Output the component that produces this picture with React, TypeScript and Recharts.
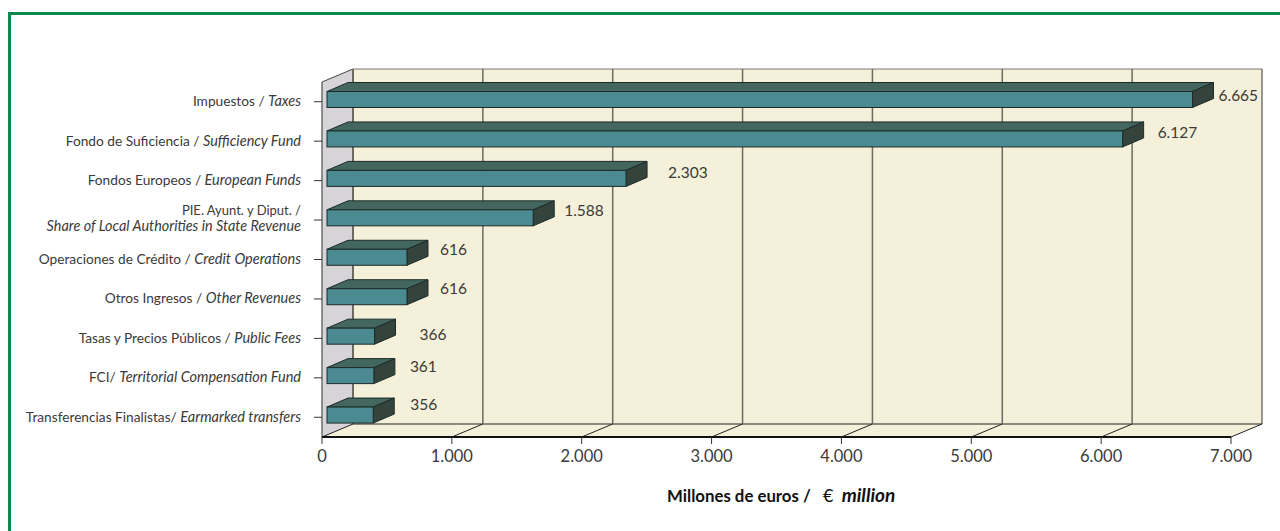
import { Bar, BarChart, LabelList, ReferenceArea, XAxis, YAxis } from "recharts";

const CATEGORIES = [
  "Impuestos",
  "Fondo de Suficiencia",
  "Fondos Europeos",
  "PIE. Ayunt. y Diput.",
  "Operaciones de Crédito",
  "Otros Ingresos",
  "Tasas y Precios Públicos",
  "FCI",
  "Transferencias Finalistas",
];
const CATEGORIES_EN = [
  "Taxes",
  "Sufficiency Fund",
  "European Funds",
  "Share of Local Authorities in State Revenue",
  "Credit Operations",
  "Other Revenues",
  "Public Fees",
  "Territorial Compensation Fund",
  "Earmarked transfers",
];
const VALUES = [6665, 6127, 2303, 1588, 616, 616, 366, 361, 356];
const X_TICKS = [0, 1000, 2000, 3000, 4000, 5000, 6000, 7000];

const chartData = CATEGORIES.map((name, i) => ({ name, value: VALUES[i] }));

const FONT = "Lato, sans-serif";
const TEXT = "#3a3a3a";
const WALL_DX = 31;
const WALL_DY = 13;
const BAR_DX = 21;
const BAR_DY = 9;
// the value labels sit a bit unevenly in the original
const LABEL_NUDGE = [
  [26, -4],
  [35, -6],
  [42, -6],
  [31, -7],
  [33, -8],
  [33, -8],
  [45, -2],
  [36, -9],
  [37, -10],
];

const fmt = (v: number) => String(v).replace(/\B(?=(\d{3})+$)/g, ".");

const Walls = ({ x, y, width, height }: any) => {
  const bottom = y + height;
  const right = x + width;
  const step = width / 7;
  return (
    <g>
      <polygon
        points={`${x + WALL_DX},${y - WALL_DY} ${right + WALL_DX},${y - WALL_DY} ${right + WALL_DX},${bottom - WALL_DY} ${x + WALL_DX},${bottom - WALL_DY}`}
        fill="#f5f0d9"
      />
      <polygon
        points={`${x},${bottom} ${x + WALL_DX},${bottom - WALL_DY} ${right + WALL_DX},${bottom - WALL_DY} ${right},${bottom}`}
        fill="#f5f0d9"
      />
      <polygon
        points={`${x},${y} ${x + WALL_DX},${y - WALL_DY} ${x + WALL_DX},${bottom - WALL_DY} ${x},${bottom}`}
        fill="#d6d4d6"
      />
      <line x1={x} y1={y} x2={x} y2={bottom} stroke="#6e6e6e" strokeWidth={1.5} />
      <line x1={x} y1={y} x2={x + WALL_DX} y2={y - WALL_DY} stroke="#444" strokeWidth={1} />
      <line x1={x + WALL_DX} y1={y - WALL_DY} x2={right + WALL_DX} y2={y - WALL_DY} stroke="#777" strokeWidth={1} />
      <line x1={right + WALL_DX} y1={y - WALL_DY} x2={right + WALL_DX} y2={bottom - WALL_DY} stroke="#333" strokeWidth={1} />
      <line x1={x + WALL_DX} y1={bottom - WALL_DY} x2={right + WALL_DX} y2={bottom - WALL_DY} stroke="#222" strokeWidth={1} />
      {X_TICKS.slice(0, 7).map((_, i) => (
        <line
          key={i}
          x1={x + WALL_DX + step * i}
          y1={y - WALL_DY}
          x2={x + WALL_DX + step * i}
          y2={bottom - WALL_DY}
          stroke="#6b6b60"
          strokeWidth={i === 0 ? 2 : 1.5}
        />
      ))}
      {X_TICKS.map((_, i) => (
        <line
          key={i}
          x1={x + step * i}
          y1={bottom}
          x2={x + step * i + WALL_DX}
          y2={bottom - WALL_DY}
          stroke="#222"
          strokeWidth={1}
        />
      ))}
    </g>
  );
};

const Bar3D = ({ x, y, width, height }: any) => {
  const left = x + 5;
  const top = y - 2.5;
  const right = x + width + 5;
  const low = top + height;
  return (
    <g stroke="#1d2b28" strokeWidth={1}>
      <polygon
        points={`${left},${top} ${left + BAR_DX},${top - BAR_DY} ${right + BAR_DX},${top - BAR_DY} ${right},${top}`}
        fill="#43675f"
      />
      <polygon
        points={`${right},${top} ${right + BAR_DX},${top - BAR_DY} ${right + BAR_DX},${low - BAR_DY} ${right},${low}`}
        fill="#34443d"
      />
      <rect x={left} y={top} width={width} height={height} fill="#4a8a90" />
    </g>
  );
};

const ValueLabel = ({ x, y, width, height, value, index }: any) => {
  const [dx, dy] = LABEL_NUDGE[index];
  return (
    <text
      x={x + width + 5 + dx}
      y={y - 2.5 + height / 2 + dy}
      dy="0.35em"
      fontFamily={FONT}
      fontSize={15.5}
      fill={TEXT}
    >
      {fmt(value)}
    </text>
  );
};

const CategoryTick = ({ y, payload, index }: any) => {
  const en = CATEGORIES_EN[index];
  const common = { x: 301, textAnchor: "end" as const, fontFamily: FONT, fill: TEXT };
  if (index === 3) {
    return (
      <g>
        <text {...common} fontSize={13} y={y - 5}>{payload.value} /</text>
        <text {...common} fontSize={14.4} y={y + 11} fontStyle="italic">{en}</text>
      </g>
    );
  }
  const sep = index >= 7 ? "/ " : " / ";
  return (
    <text {...common} fontSize={13.7} y={y + 4.5}>
      {payload.value}
      {sep}
      <tspan fontStyle="italic" fontSize={14.5}>{en}</tspan>
    </text>
  );
};

const ValueTick = ({ x, y, payload }: any) => (
  <g>
    <line x1={x} y1={y - 8} x2={x} y2={y - 1} stroke="#333" strokeWidth={1} />
    <text x={x} y={y + 17} textAnchor="middle" fontFamily={FONT} fontSize={16.5} fill={TEXT}>
      {fmt(payload.value)}
    </text>
  </g>
);

export default function App() {
  return (
    <div style={{ position: "absolute", left: 0, top: 0, width: 1280, height: 531, background: "#fff" }}>
      <div
        style={{
          position: "absolute",
          left: 8,
          top: 12,
          right: 0,
          bottom: 0,
          borderLeft: "3px solid #0b8a50",
          borderTop: "3px solid #0b8a50",
          boxSizing: "border-box",
        }}
      />
      <BarChart
        layout="vertical"
        width={1280}
        height={531}
        data={chartData}
        margin={{ top: 82, right: 49, bottom: 54, left: 0 }}
        style={{ position: "absolute", left: 0, top: 0 }}
      >
        <XAxis
          type="number"
          domain={[0, 7000]}
          ticks={X_TICKS}
          axisLine={{ stroke: "#111", strokeWidth: 2 }}
          tickLine={false}
          tick={<ValueTick />}
          height={40}
          interval={0}
        />
        <YAxis
          type="category"
          dataKey="name"
          width={322}
          axisLine={false}
          tickLine={{ stroke: "#333" }}
          tickSize={8}
          tick={<CategoryTick />}
          interval={0}
        />
        <ReferenceArea x1={0} x2={7000} ifOverflow="visible" shape={<Walls />} />
        <Bar dataKey="value" barSize={16} isAnimationActive={false} shape={<Bar3D />}>
          <LabelList dataKey="value" content={<ValueLabel />} />
        </Bar>
      </BarChart>
      <div
        style={{
          position: "absolute",
          left: 667,
          top: 483,
          fontFamily: FONT,
          fontSize: 16.8,
          fontWeight: 700,
          color: "#111",
          whiteSpace: "pre",
        }}
      >
        Millones de euros /{"   "}
        <span style={{ fontWeight: 400, fontSize: 18 }}>€</span>{"  "}
        <i style={{ fontSize: 19 }}>million</i>
      </div>
    </div>
  );
}
